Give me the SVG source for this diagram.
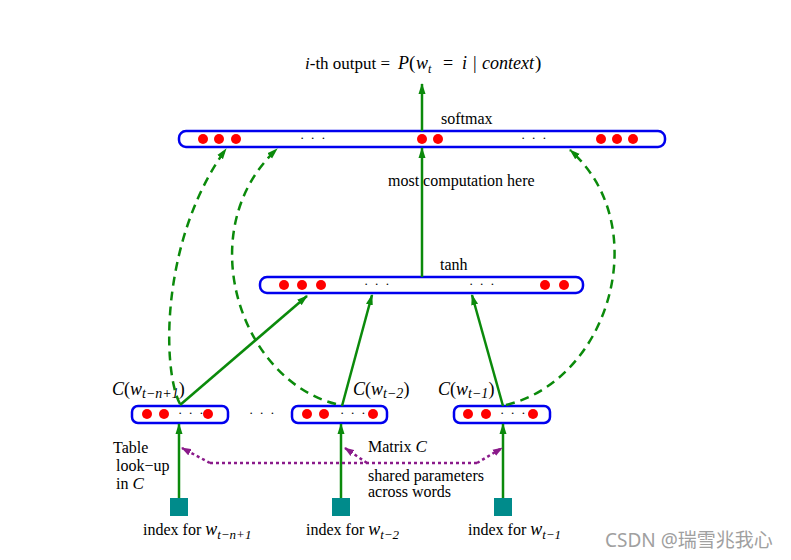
<svg xmlns="http://www.w3.org/2000/svg" width="791" height="560" viewBox="0 0 791 560">
<defs>
<marker id="ag" markerUnits="userSpaceOnUse" markerWidth="11" markerHeight="8" refX="10" refY="4" orient="auto"><path d="M0,0.5 L11,4 L0,7.5 z" fill="#0b8a0b"/></marker>
<marker id="ap" markerUnits="userSpaceOnUse" markerWidth="10" markerHeight="8" refX="9" refY="4" orient="auto"><path d="M0,0.5 L10,4 L0,7.5 z" fill="#8a1a8a"/></marker>
<style>
.bar{fill:#fff;stroke:#0000ee;stroke-width:2.5}
.dot{fill:#ff0000}
.t{font-family:"Liberation Serif","DejaVu Serif",serif;fill:#000}
.it{font-style:italic}
.ell{font-family:"Liberation Serif",serif;font-size:13px;letter-spacing:1.5px}
.g{stroke:#0b8a0b;stroke-width:2.5;fill:none;marker-end:url(#ag)}
.gd{stroke:#0b8a0b;stroke-width:2.5;fill:none;stroke-dasharray:9,6;marker-end:url(#ag)}
.p{stroke:#8a1a8a;stroke-width:2.5;fill:none;stroke-dasharray:3,3}
.sq{fill:#008b8b}
</style>
</defs>
<rect width="791" height="560" fill="#fff"/>

<text class="t" y="69" font-size="18"><tspan x="305" class="it" font-size="17">i</tspan><tspan font-size="17">-th output =</tspan><tspan x="398" class="it">P</tspan><tspan x="409" font-size="19">(</tspan><tspan x="416" class="it">w</tspan><tspan class="it" font-size="12" dy="4">t</tspan><tspan x="443" dy="-4">=</tspan><tspan x="462" class="it">i</tspan><tspan x="473">|</tspan><tspan x="482" class="it">context</tspan><tspan x="535" font-size="19">)</tspan></text>

<g id="softmax">
<rect class="bar" x="179" y="131" width="486" height="16" rx="7"/>
<circle class="dot" cx="203" cy="139" r="5"/><circle class="dot" cx="219" cy="139" r="5"/><circle class="dot" cx="236" cy="139" r="5"/>
<text class="ell" x="300" y="142">· · ·</text>
<circle class="dot" cx="422" cy="139" r="5"/><circle class="dot" cx="438" cy="139" r="5"/>
<text class="ell" x="521" y="142">· · ·</text>
<circle class="dot" cx="601" cy="139" r="5"/><circle class="dot" cx="617" cy="139" r="5"/><circle class="dot" cx="633" cy="139" r="5"/>
<text class="t" x="441" y="124" font-size="16">softmax</text>
</g>

<g id="tanh">
<rect class="bar" x="260" y="277" width="323" height="16" rx="7"/>
<circle class="dot" cx="284" cy="285" r="5"/><circle class="dot" cx="302" cy="285" r="5"/><circle class="dot" cx="321" cy="285" r="5"/>
<text class="ell" x="364" y="288">· · ·</text>
<text class="ell" x="469" y="288">· · ·</text>
<circle class="dot" cx="545" cy="285" r="5"/><circle class="dot" cx="564" cy="285" r="5"/>
<text class="t" x="440" y="270" font-size="16">tanh</text>
</g>

<text class="t" x="388" y="186" font-size="16">most  computation here</text>

<g id="c1">
<rect class="bar" x="132" y="406" width="96" height="17" rx="6"/>
<circle class="dot" cx="147" cy="414" r="5"/><circle class="dot" cx="164" cy="414" r="5"/>
<text class="ell" x="178" y="417">· · ·</text>
<circle class="dot" cx="208" cy="414" r="5"/>
<text class="t" x="112" y="395" font-size="18"><tspan class="it">C</tspan>(<tspan class="it">w</tspan><tspan class="it" font-size="14" dy="3">t−n+1</tspan><tspan dy="-3">)</tspan></text>
</g>
<text class="ell" x="249" y="417">· · ·</text>
<g id="c2">
<rect class="bar" x="292" y="406" width="95" height="17" rx="6"/>
<circle class="dot" cx="307" cy="414" r="5"/><circle class="dot" cx="324" cy="414" r="5"/>
<text class="ell" x="340" y="417">· · ·</text>
<circle class="dot" cx="373" cy="414" r="5"/>
<text class="t" x="353" y="395" font-size="18"><tspan class="it">C</tspan>(<tspan class="it">w</tspan><tspan class="it" font-size="14" dy="3">t−2</tspan><tspan dy="-3">)</tspan></text>
</g>
<g id="c3">
<rect class="bar" x="454" y="406" width="96" height="17" rx="6"/>
<circle class="dot" cx="468" cy="414" r="5"/><circle class="dot" cx="486" cy="414" r="5"/>
<text class="ell" x="500" y="417">· · ·</text>
<circle class="dot" cx="533" cy="414" r="5"/>
<text class="t" x="438" y="395" font-size="18"><tspan class="it">C</tspan>(<tspan class="it">w</tspan><tspan class="it" font-size="14" dy="3">t−1</tspan><tspan dy="-3">)</tspan></text>
</g>

<g id="idx1"><rect class="sq" x="170" y="498" width="18" height="18"/>
<text class="t" x="143" y="535" font-size="16">index for <tspan class="it" font-size="18">w</tspan><tspan class="it" font-size="13" dy="4">t−n+1</tspan></text></g>
<g id="idx2"><rect class="sq" x="332" y="498" width="18" height="18"/>
<text class="t" x="306" y="535" font-size="16">index for <tspan class="it" font-size="18">w</tspan><tspan class="it" font-size="13" dy="4">t−2</tspan></text></g>
<g id="idx3"><rect class="sq" x="494" y="498" width="18" height="18"/>
<text class="t" x="468" y="535" font-size="16">index for <tspan class="it" font-size="18">w</tspan><tspan class="it" font-size="13" dy="4">t−1</tspan></text></g>

<g id="labels">
<text class="t" x="113" y="453" font-size="16">Table</text>
<text class="t" x="116" y="471" font-size="16">look−up</text>
<text class="t" x="116" y="489" font-size="16">in <tspan class="it" font-size="17">C</tspan></text>
<text class="t" x="368" y="452" font-size="16">Matrix <tspan class="it" font-size="17">C</tspan></text>
<text class="t" x="368" y="481" font-size="16">shared parameters</text>
<text class="t" x="368" y="497" font-size="16">across words</text>
</g>

<g id="connectors">
<line class="g" x1="422" y1="131" x2="422" y2="84"/>
<line class="g" x1="422" y1="277" x2="422" y2="148"/>
<line class="g" x1="180" y1="405" x2="307" y2="296"/>
<line class="g" x1="342" y1="406" x2="372" y2="295"/>
<line class="g" x1="503" y1="406" x2="472" y2="295"/>
<line class="g" x1="179" y1="498" x2="179" y2="424"/>
<line class="g" x1="341" y1="498" x2="341" y2="424"/>
<line class="g" x1="503" y1="498" x2="503" y2="424"/>
<path class="gd" d="M180,404 C162,370 160,240 226,149"/>
<path class="gd" d="M336,404 C240,380 190,230 277,149"/>
<path class="gd" d="M506,405 C610,380 655,225 570,150"/>
<path class="p" d="M210,463 L477,463"/>
<path class="p" d="M210,463 L182,448" marker-end="url(#ap)"/>
<path class="p" d="M367,463 L345,448" marker-end="url(#ap)"/>
<path class="p" d="M477,463 L502,448" marker-end="url(#ap)"/>
</g>

<text x="605" y="547" font-family="'Noto Sans','Noto Sans CJK SC',sans-serif" font-size="19" fill="#a0a0a0">CSDN @瑞雪兆我心</text>
</svg>
